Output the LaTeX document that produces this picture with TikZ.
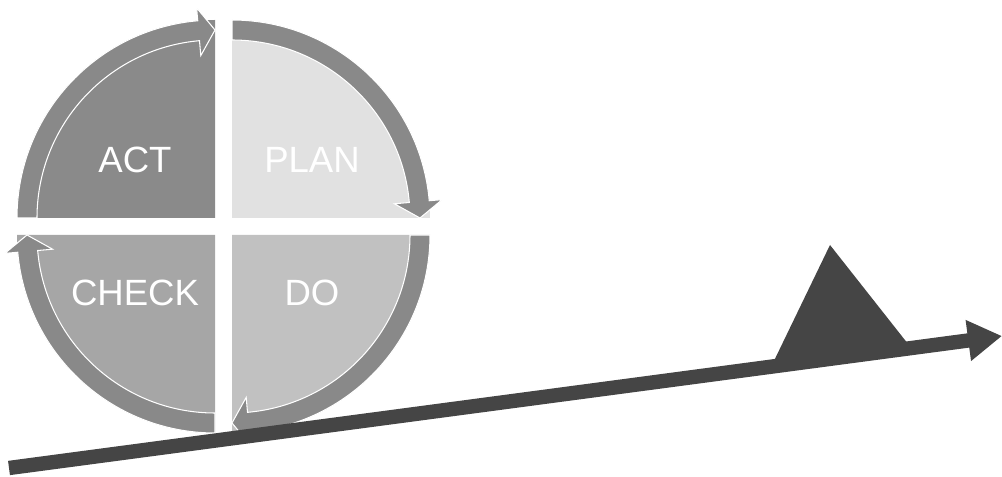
\documentclass[tikz,border=0pt]{standalone}
\usepackage{fontspec}
\setmainfont{Liberation Sans}
\usetikzlibrary{arrows.meta}
\definecolor{ringgray}{HTML}{898989}
\definecolor{actgray}{HTML}{8A8A8A}
\definecolor{plangray}{HTML}{E1E1E1}
\definecolor{dogray}{HTML}{C1C1C1}
\definecolor{checkgray}{HTML}{A6A6A6}
\definecolor{slopegray}{HTML}{454545}

\begin{document}
\begin{tikzpicture}[x=0.02cm, y=0.02cm,
  phase/.style={text=white, font=\fontsize{20.8}{25}\selectfont},
  cyclearrow/.style={fill=ringgray, draw=white, line width=0.6pt},
  slope/.style={draw=slopegray, line width=0.288cm, -{Triangle[width=0.78cm, length=0.68cm]}}]
\useasboundingbox (0,0) rectangle (1002,477);
% Four quarters of the wheel, each with its own arrow
\foreach \cx/\cy/\rot/\col in {215/259/0/actgray, 232/259/-90/plangray,
                               232/242/-180/dogray, 215/242/-270/checkgray} {
  \begin{scope}[shift={(\cx,\cy)}, rotate=\rot]
    \fill[\col] (0,0) -- (180:198) arc[start angle=180, end angle=90, radius=198] -- cycle;
    \path[cyclearrow] (180:198) arc[start angle=180, end angle=95, radius=198]
      -- (95:211) -- (90:188) -- (95:163) -- (95:178)
      arc[start angle=95, end angle=180, radius=178] -- cycle;
  \end{scope}
}
% Labels of the quarters
\node[phase] (act) at (135,317) {ACT};
\node[phase] (plan) at (312,317) {PLAN};
\node[phase] (do) at (312,184) {DO};
\node[phase] (check) at (135,184) {CHECK};
% The slope and the wedge under the wheel
\coordinate (slopestart) at (9,9);
\coordinate (slopeend) at (1002,141);
\draw[slope] (slopestart) -- (slopeend);
\fill[slopegray] (772,112) -- (830,232) -- (912,128) -- cycle;
\end{tikzpicture}
\end{document}
